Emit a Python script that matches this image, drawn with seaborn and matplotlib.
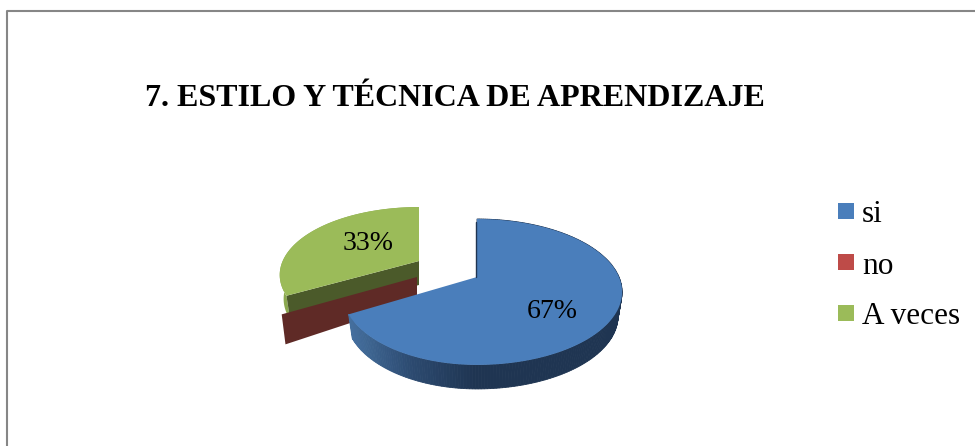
import numpy as np
import matplotlib
matplotlib.use('Agg')
import matplotlib.pyplot as plt
import seaborn as sns

# datos del grafico
categorias = ['si', 'no', 'A veces']
valores = [67, 0, 33]
titulo = '7. ESTILO Y TÉCNICA DE APRENDIZAJE'

colores_cara = ['#4a7ebb', '#be4b48', '#9bbb59']
colores_lado = ['#1f3552', '#5f2a26', '#4b5a2a']

sns.set_theme(style='white')
plt.rcParams['font.family'] = ['Liberation Serif', 'DejaVu Serif']

# perspectiva del disco (pixeles)
RX, RY, K = 142, 69.9, 0.205
ALTO = 24
ENCOGE = 0.972

fig, ax = plt.subplots(figsize=(9.75, 4.46), dpi=100)
ax.set_position([0, 0, 1, 1])
ax.set_xlim(0, 975)
ax.set_ylim(446, 0)
ax.axis('off')


def proyectar(ang, centro, izq=1.0, vert=1.0):
    # angulo en grados, horario desde las 12
    t = np.radians(np.atleast_1d(ang))
    u, v = np.sin(t), np.cos(t)
    f = 1 + K * v
    esc = np.where(u < 0, izq, 1.0)
    return centro[0] + RX * esc * u / f, centro[1] - RY * vert * v / f


def bajar(x, y, centro):
    return centro[0] + (x - centro[0]) * ENCOGE, y + ALTO


acum = np.cumsum([0] + valores) / sum(valores) * 360
ini = dict(zip(categorias, acum[:-1]))
fin = dict(zip(categorias, acum[1:]))

c_si = (477, 277)
c_no = (417, 277)
c_av = (419, 261)

# A veces: borde, pared y cara
ang = np.linspace(ini['A veces'], fin['A veces'], 80)
x, y = proyectar(ang, c_av, izq=0.96, vert=0.93)
xb, yb = bajar(x, y, c_av)
ax.fill(np.r_[x, xb[::-1]], np.r_[y, yb[::-1]], color='#8ba84f', lw=0)
ax.fill([c_av[0], x[0], xb[0], c_av[0]], [c_av[1], y[0], yb[0], c_av[1] + ALTO],
        color=colores_lado[2], lw=0)

# no: solo se ve la pared porque su valor es cero
xn, yn = proyectar(ini['no'], c_no, izq=0.98)
xnb, ynb = bajar(xn, yn + 6, c_no)
ax.fill([c_no[0], xn[0], xnb[0], c_no[0]], [c_no[1], yn[0], ynb[0], c_no[1] + ALTO],
        color=colores_lado[1], lw=0)

ax.fill(np.r_[c_av[0], x], np.r_[c_av[1], y], color=colores_cara[2], lw=0)

# si: borde con degradado y cara
ang = np.linspace(ini['si'], fin['si'], 240)
x, y = proyectar(ang, c_si, izq=0.93)
xb, yb = bajar(x, y, c_si)
degradado = sns.blend_palette(['#1f3552', '#1f3552', '#2c4a70', '#45709f'], 120)
xmin, xmax = 349, 540
for i in range(len(ang) - 1):
    pos = np.clip((xmax - x[i]) / (xmax - xmin), 0, 1)
    col = degradado[int(pos * 119)]
    ax.fill([x[i], x[i + 1], xb[i + 1], xb[i]], [y[i], y[i + 1], yb[i + 1], yb[i]],
            color=col, lw=0.6, ec=col)
ax.plot([x[0] - 1, c_si[0] - 1], [y[0] + 3, c_si[1]], color=colores_lado[0], lw=1)
ax.fill(np.r_[c_si[0], x], np.r_[c_si[1], y], color=colores_cara[0], lw=0)

# etiquetas
ax.text(552, 311, f'{valores[0]}%', fontsize=20, color='black', ha='center', va='center')
ax.text(368, 243, f'{valores[2]}%', fontsize=20, color='black', ha='center', va='center')

ax.text(454.5, 99, titulo, fontsize=23, fontweight='bold', color='black', ha='center', va='center')

# leyenda
for i, nombre in enumerate(categorias):
    yl = 211 + 51 * i
    ax.fill([838, 854, 854, 838], [yl - 8, yl - 8, yl + 8, yl + 8], color=colores_cara[i], lw=0)
    ax.text(862, yl + 4, nombre, fontsize=22.5, color='black', ha='left', va='center')

# marco
ax.plot([6.5, 6.5, 975], [446, 10.5, 10.5], color='#868686', lw=1.5, clip_on=False)

fig.savefig('out.png', dpi=100)
